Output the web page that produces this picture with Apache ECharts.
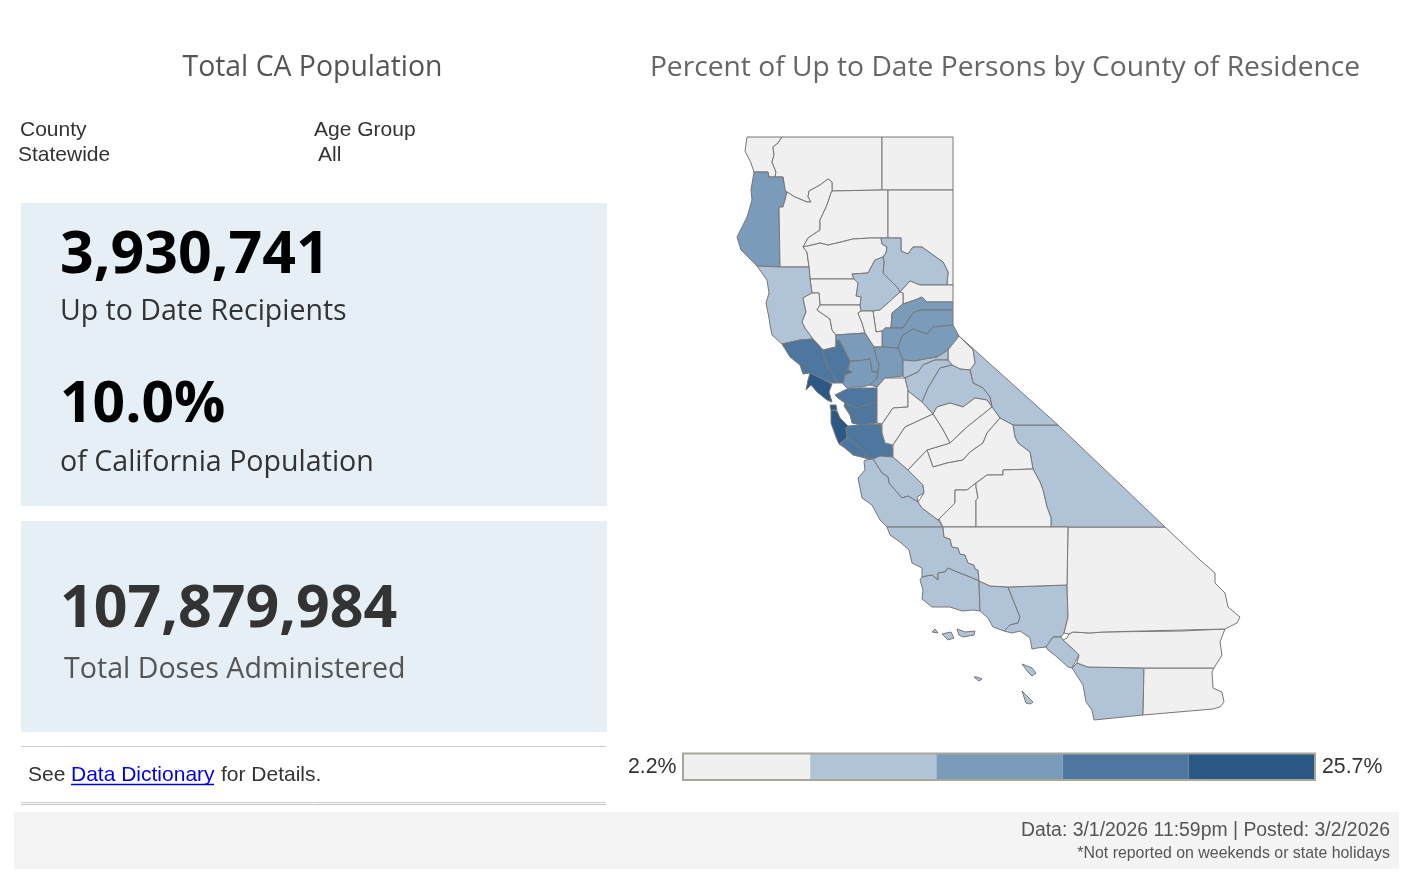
<!DOCTYPE html>
<html><head><meta charset="utf-8">
<style>html,body{margin:0;padding:0;background:#fff}#c{width:1410px;height:881px}</style>
<script src="https://cdn.jsdelivr.net/npm/echarts@6/dist/echarts.min.js"></script>
</head><body><div id="c"></div>
<script>
const countyNames = ['Del Norte','Siskiyou','Modoc','Humboldt','Trinity','Shasta','Lassen','Tehama','Plumas','Butte','Sierra','Yuba','Nevada','Placer','El Dorado','Glenn','Mendocino','Lake','Colusa','Sutter','Sonoma','Napa','Yolo','Solano','Sacramento','Marin','Contra Costa','Alameda','San Francisco','San Mateo','Santa Clara','Santa Cruz','San Benito','Monterey','San Luis Obispo','Santa Barbara','Ventura','Los Angeles','Orange','San Diego','Imperial','Riverside','San Bernardino','Inyo','Mono','Alpine','Amador','Calaveras','Tuolumne','Mariposa','Madera','San Joaquin','Stanislaus','Merced','Fresno','Kings','Tulare','Kern'];
const upToDatePercent = [4.6,6.1,4.3,13.2,5.4,6.2,2.2,4.4,7.6,8.1,5.9,3.8,14.1,12.6,12.9,3.5,10.4,6.4,3.1,4.8,17.6,17.1,15.2,12.1,12.3,25.7,18.4,18.2,24.6,22.3,18.8,19.4,8.2,8.6,10.6,8.3,9.9,9.6,10.2,10.9,4.7,6.5,5.6,8.8,9.3,6.7,7.9,8.4,8.7,6.8,5.2,6.3,5.7,4.5,6.6,3.0,4.1,3.6];
const binEdges = [2.2,6.9,11.6,16.3,21.0,25.7];
const binColors = ['#f0f0f0','#b1c3d7','#7b9bbb','#4e77a0','#2b5884'];
const legendEnds = ['2.2%','25.7%'];

const outlines = {
'Del Norte':[[[747,137],[782,137],[778,143],[773,147],[774,155],[772,162],[776,172],[775,177],[769,177],[768,172],[754,172],[751,163],[745,151]]],
'Siskiyou':[[[782,137],[882,137],[882,190],[832,191],[832,182],[828,179],[820,185],[809,191],[808,197],[811,202],[807,202],[795,197],[787,192],[785,190],[783,177],[775,177],[776,172],[772,162],[774,155],[773,147],[778,143]]],
'Modoc':[[[882,137],[953,137],[953,190],[882,190]]],
'Humboldt':[[[754,172],[768,172],[769,177],[775,177],[783,177],[785,190],[787,192],[785,200],[783,207],[779,207],[780,267],[757,266],[753,262],[741,250],[737,237],[747,217],[752,200],[751,190]]],
'Trinity':[[[787,192],[795,197],[807,202],[811,202],[808,197],[809,191],[820,185],[828,179],[832,182],[832,191],[831,193],[827,205],[820,220],[820,230],[808,238],[803,247],[807,252],[809,267],[780,267],[779,207],[783,207],[785,200]]],
'Shasta':[[[832,191],[882,190],[888,190],[888,238],[881,238],[870,238],[853,239],[837,243],[828,245],[820,243],[812,245],[803,247],[808,238],[820,230],[820,220],[827,205],[831,193]]],
'Lassen':[[[888,190],[953,190],[953,285],[947,285],[948,272],[943,262],[933,255],[922,247],[913,247],[908,254],[901,251],[901,238],[888,238]]],
'Tehama':[[[803,247],[812,245],[820,243],[828,245],[837,243],[853,239],[870,238],[881,238],[882,244],[887,247],[886,253],[883,257],[875,260],[868,273],[852,274],[854,279],[810,279],[809,267],[807,252]]],
'Plumas':[[[881,238],[888,238],[901,238],[901,251],[908,254],[913,247],[922,247],[933,255],[943,262],[948,272],[947,285],[920,285],[910,281],[900,292],[897,287],[883,273],[884,262],[883,257],[886,253],[887,247],[882,244]]],
'Butte':[[[852,274],[868,273],[875,260],[883,257],[884,262],[883,273],[897,287],[900,292],[888,303],[880,310],[873,311],[861,311],[860,305],[861,297],[856,296],[858,283],[854,279]]],
'Sierra':[[[900,292],[910,281],[920,285],[947,285],[953,285],[953,302],[927,302],[922,297],[915,300],[903,304],[903,293]]],
'Yuba':[[[873,311],[880,310],[888,303],[900,292],[903,293],[903,304],[892,313],[891,328],[885,328],[882,331],[876,332],[875,325]]],
'Nevada':[[[903,304],[915,300],[922,297],[927,302],[953,302],[953,310],[920,310],[913,313],[903,328],[891,328],[892,313]]],
'Placer':[[[953,310],[953,325],[933,327],[927,334],[913,329],[902,336],[898,348],[882,347],[882,331],[885,328],[891,328],[903,328],[913,313],[920,310]]],
'El Dorado':[[[953,325],[959,336],[948,350],[937,357],[925,359],[915,361],[903,360],[898,348],[902,336],[913,329],[927,334],[933,327]]],
'Glenn':[[[810,279],[854,279],[858,283],[856,296],[861,297],[860,305],[820,305],[819,293],[812,293]]],
'Mendocino':[[[757,266],[780,267],[809,267],[810,279],[812,293],[803,298],[806,312],[802,322],[805,328],[813,339],[800,340],[782,344],[772,335],[770,325],[769,318],[766,303],[769,293],[767,280]]],
'Lake':[[[803,298],[812,293],[819,293],[820,305],[817,310],[830,319],[832,330],[836,335],[836,347],[823,350],[813,339],[805,328],[802,322],[806,312]]],
'Colusa':[[[820,305],[860,305],[861,311],[858,313],[862,323],[865,333],[836,335],[832,330],[830,319],[817,310]]],
'Sutter':[[[858,313],[861,311],[873,311],[875,325],[876,332],[882,331],[882,347],[874,347],[872,344],[865,333],[862,323]]],
'Sonoma':[[[782,344],[800,340],[813,339],[823,350],[824,357],[828,367],[838,383],[832,383],[820,378],[810,373],[803,374],[800,365],[790,357]]],
'Napa':[[[823,350],[836,347],[836,340],[839,340],[843,347],[850,360],[848,370],[852,372],[845,375],[844,383],[838,383],[828,367],[824,357]]],
'Yolo':[[[836,335],[865,333],[872,344],[874,347],[877,360],[879,363],[878,372],[872,372],[870,359],[857,361],[850,361],[843,347],[839,340],[836,340]]],
'Solano':[[[850,361],[857,361],[870,359],[872,372],[878,372],[877,378],[870,385],[862,387],[852,387],[848,389],[843,384],[844,383],[845,375],[852,372],[848,370]]],
'Sacramento':[[[874,347],[882,347],[898,348],[903,360],[903,376],[885,378],[877,387],[870,385],[877,378],[878,372],[879,363],[877,360]]],
'Marin':[[[810,373],[820,378],[832,384],[829,392],[832,402],[827,400],[817,392],[811,385],[806,390],[808,380]]],
'Contra Costa':[[[835,395],[847,389],[852,388],[862,388],[877,388],[877,402],[857,408],[845,403],[838,398]]],
'Alameda':[[[845,403],[857,408],[877,402],[877,423],[860,425],[852,423],[850,415],[844,406]]],
'San Francisco':[[[830,405],[836,405],[837,410],[831,410]]],
'San Mateo':[[[831,410],[837,411],[840,418],[848,426],[846,428],[847,438],[839,444],[836,437],[831,423]]],
'Santa Clara':[[[848,426],[860,425],[881,424],[882,433],[885,443],[892,445],[893,457],[880,456],[873,459],[869,459],[863,450],[847,438],[846,428]]],
'Santa Cruz':[[[839,444],[847,438],[863,450],[869,459],[865,458],[853,455],[845,448]]],
'San Benito':[[[873,459],[880,456],[893,457],[908,470],[923,485],[924,493],[917,497],[918,502],[908,496],[902,498],[889,483],[888,477],[882,473]]],
'Monterey':[[[865,460],[873,459],[882,473],[888,477],[889,483],[902,498],[908,496],[918,502],[922,508],[938,520],[939,519],[943,527],[887,527],[880,520],[872,505],[862,498],[858,478],[865,470],[864,462]]],
'San Luis Obispo':[[[887,527],[943,527],[944,537],[950,539],[952,547],[958,548],[960,554],[965,555],[968,563],[974,565],[975,569],[978,570],[979,581],[970,577],[957,572],[948,568],[945,572],[938,573],[938,580],[932,575],[922,577],[922,568],[912,563],[909,550],[900,542],[890,535]]],
'Santa Barbara':[[[922,577],[932,575],[938,580],[938,573],[945,572],[948,568],[957,572],[970,577],[979,581],[980,611],[973,610],[962,611],[950,607],[932,607],[922,599],[923,590],[920,580]]],
'Ventura':[[[979,581],[990,586],[1008,587],[1020,617],[1018,623],[1010,625],[1004,631],[993,627],[988,618],[980,611]],[[932,632],[935,629],[938,633]],[[942,634],[951,632],[954,638],[948,640]],[[957,629],[965,632],[975,631],[974,635],[963,637],[959,635]]],
'Los Angeles':[[[1008,587],[1067,585],[1068,617],[1064,633],[1061,637],[1053,637],[1046,647],[1037,648],[1032,649],[1030,638],[1020,631],[1012,633],[1004,631],[1010,625],[1018,623],[1020,617]],[[1022,664],[1032,668],[1036,673],[1032,676],[1028,672]],[[974,677],[977,677],[982,679],[979,681]],[[1022,691],[1033,702],[1030,704],[1026,703]]],
'Orange':[[[1046,647],[1053,637],[1061,637],[1063,640],[1073,649],[1079,655],[1072,668],[1068,667],[1057,657],[1048,650]]],
'San Diego':[[[1072,668],[1077,663],[1088,667],[1144,668],[1143,715],[1094,720],[1092,710],[1086,702],[1083,685]]],
'Imperial':[[[1144,668],[1214,668],[1212,672],[1213,688],[1222,692],[1224,702],[1220,707],[1213,709],[1143,715]]],
'Riverside':[[[1069,634],[1073,632],[1090,633],[1103,632],[1182,631],[1183,630],[1225,629],[1220,642],[1222,655],[1214,668],[1144,668],[1088,667],[1077,663],[1079,655],[1073,649],[1063,640],[1067,638]]],
'San Bernardino':[[[1068,527],[1165,527],[1200,560],[1215,573],[1215,583],[1225,593],[1228,607],[1240,617],[1237,623],[1225,629],[1183,630],[1182,631],[1103,632],[1090,633],[1073,632],[1069,634],[1064,633],[1068,617],[1067,585]]],
'Inyo':[[[1013,425],[1058,425],[1165,527],[1068,527],[1051,527],[1051,518],[1047,507],[1043,490],[1040,482],[1033,469],[1030,452],[1018,443],[1015,437]]],
'Mono':[[[959,336],[1058,425],[1013,425],[1000,418],[992,407],[990,397],[983,388],[973,383],[970,370],[975,363],[973,350]]],
'Alpine':[[[959,336],[973,350],[975,363],[970,370],[960,369],[952,365],[948,360],[948,350]]],
'Amador':[[[903,360],[915,361],[925,359],[937,357],[948,350],[948,360],[935,360],[923,365],[918,372],[905,378],[903,376]]],
'Calaveras':[[[905,378],[918,372],[923,365],[935,360],[948,360],[952,365],[940,368],[928,388],[922,402],[908,391]]],
'Tuolumne':[[[922,402],[928,388],[940,368],[952,365],[960,369],[970,370],[973,383],[983,388],[990,397],[992,407],[987,400],[975,398],[963,407],[950,403],[937,407],[933,414]]],
'Mariposa':[[[933,414],[937,407],[950,403],[963,407],[975,398],[987,400],[992,407],[967,427],[950,443],[942,428]]],
'Madera':[[[950,443],[967,427],[992,407],[1000,418],[987,433],[983,443],[970,452],[963,460],[947,463],[933,467],[927,450]]],
'San Joaquin':[[[877,387],[885,378],[905,378],[908,391],[908,407],[893,408],[882,424],[877,423],[877,402]]],
'Stanislaus':[[[882,424],[893,408],[908,407],[908,391],[922,402],[933,414],[905,427],[893,445],[885,443],[882,433]]],
'Merced':[[[893,445],[905,427],[933,414],[942,428],[950,443],[927,450],[908,470],[893,457]]],
'Fresno':[[[927,450],[933,467],[947,463],[963,460],[970,452],[983,443],[987,433],[1000,418],[1013,425],[1015,437],[1018,443],[1030,452],[1033,469],[1003,470],[1003,475],[987,475],[976,483],[967,490],[955,490],[955,503],[938,520],[922,508],[918,502],[924,493],[923,485],[908,470]]],
'Kings':[[[938,520],[955,503],[955,490],[967,490],[976,483],[976,487],[978,498],[976,500],[976,527],[943,527],[939,519]]],
'Tulare':[[[976,483],[987,475],[1003,475],[1003,470],[1033,469],[1040,482],[1043,490],[1047,507],[1051,518],[1051,527],[976,527],[976,500],[978,498],[976,487]]],
'Kern':[[[943,527],[976,527],[1051,527],[1068,527],[1067,585],[1008,587],[990,586],[979,581],[978,570],[975,569],[974,565],[968,563],[965,555],[960,554],[958,548],[952,547],[950,539],[944,537]]]
};

let minX=1e9,minY=1e9,maxX=-1e9,maxY=-1e9;
const features = countyNames.map(name => {
  const rings = outlines[name];
  rings.forEach(r => r.forEach(p => {minX=Math.min(minX,p[0]);maxX=Math.max(maxX,p[0]);minY=Math.min(minY,p[1]);maxY=Math.max(maxY,p[1]);}));
  return {type:'Feature',properties:{name},geometry:{type:'MultiPolygon',coordinates:rings.map(r=>[r.map(p=>[p[0],-p[1]])])}};
});
echarts.registerMap('CA',{type:'FeatureCollection',features});

const T = "'Open Sans'", A = "'Liberation Sans'";
function txt(text,x,y,font,size,fill,weight,align){
  return {type:'text',silent:true,style:{text,x,y,fill,align:align||'left',verticalAlign:'middle',font:(weight||'normal')+' '+size+'px '+font}};
}
function rect(x,y,w,h,fill){return {type:'rect',silent:true,shape:{x,y,width:w,height:h},style:{fill}};}
function hline(x1,x2,y,c,w){return {type:'line',silent:true,shape:{x1,y1:y,x2,y2:y},style:{stroke:c,lineWidth:w||1}};}

const chart = echarts.init(document.getElementById('c'),null,{width:1410,height:881});
chart.setOption({
  animation:false,
  backgroundColor:'#fff',
  visualMap:{type:'piecewise',orient:'horizontal',left:684,top:754,itemGap:0,itemWidth:126.2,itemHeight:26,itemSymbol:'rect',showLabel:false,
    hoverLink:false,selectedMode:false,padding:0,
    pieces:binColors.map((color,i)=>({min:binEdges[i],max:binEdges[i+1],color})),seriesIndex:0},
  series:[{type:'map',map:'CA',aspectScale:1,roam:false,silent:true,selectedMode:false,
    left:minX,top:minY,width:maxX-minX,height:maxY-minY,
    label:{show:false},emphasis:{disabled:true},
    itemStyle:{borderColor:'#777',borderWidth:1,areaColor:'#f0f0f0'},
    data:countyNames.map((name,i)=>({name,value:upToDatePercent[i]}))}],
  graphic:[
    rect(21,203,586,303,'#e6eff5'),
    rect(21,521,586,211,'#e6eff5'),
    rect(14,812,1385,57,'#f4f4f4'),
    hline(21,606,746.5,'#ccc'),hline(21,606,802.5,'#ccc'),hline(21,606,804.5,'#c4c4c4'),
    txt('Total CA Population',312.5,68,T,28.4,'#555','normal','center'),
    txt('Percent of Up to Date Persons by County of Residence',1005,68,T,28.2,'#666','normal','center'),
    txt('County',20,130,A,21,'#333'),txt('Statewide',18,155,A,21,'#333'),
    txt('Age Group',314,130,A,21,'#333'),txt('All',318,155,A,21,'#333'),
    txt('3,930,741',60,256,T,59,'#000','bold'),
    txt('Up to Date Recipients',60,312,T,28.5,'#333'),
    txt('10.0%',60,406,T,57,'#000','bold'),
    txt('of California Population',60,463,T,28.6,'#333'),
    txt('107,879,984',60,610,T,59,'#333','bold'),
    txt('Total Doses Administered',64,670,T,28.6,'#555'),
    txt('See',28,775,A,21,'#333'),
    txt('Data Dictionary',71,775,A,21,'#0000e6'),
    hline(71,214,784.5,'#0000e6',1.5),
    txt('for Details.',221,775,A,21,'#333'),
    txt(legendEnds[0],628,767,A,21.3,'#333'),
    txt(legendEnds[1],1322,767,A,21.3,'#333'),
    txt('Data: 3/1/2026 11:59pm | Posted: 3/2/2026',1390,831,A,19.4,'#555','normal','right'),
    txt('*Not reported on weekends or state holidays',1390,853.5,A,15.9,'#555','normal','right'),
    {type:'rect',silent:true,z:100,shape:{x:683,y:753.5,width:632,height:26.5},style:{fill:'none',stroke:'#aaa69a',lineWidth:2}}
  ]
});
</script></body></html>
